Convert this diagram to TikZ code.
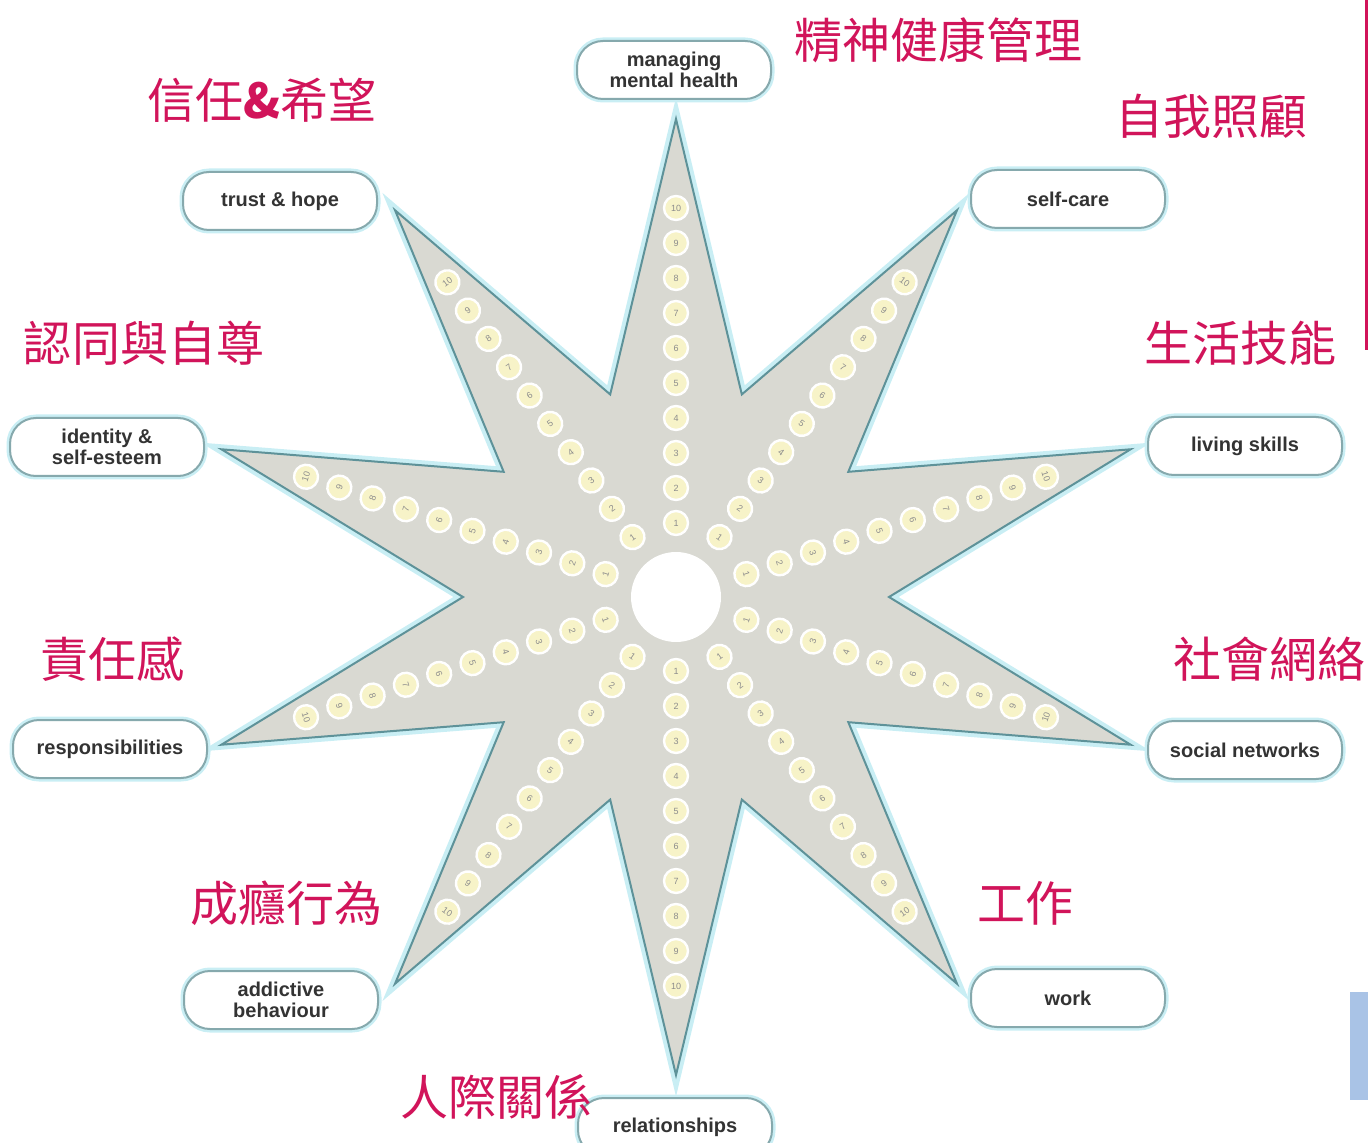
\documentclass[tikz,border=0pt]{standalone}
\usepackage{fontspec}
\setmainfont{Liberation Sans}
\newfontfamily\cjk{Noto Sans CJK TC}
\usetikzlibrary{positioning}
\definecolor{starfill}{HTML}{D9D9D2}
\definecolor{starline}{HTML}{5E9299}
\definecolor{glow}{HTML}{C9EEF4}
\definecolor{dotfill}{HTML}{F7F3C8}
\definecolor{zh}{HTML}{D1145A}
\definecolor{boxline}{HTML}{86A9AD}
\definecolor{patch}{HTML}{A9C3E6}
\tikzset{
    area/.style={rounded corners=13pt, draw=boxline, line width=1pt, fill=white,
        preaction={draw=glow, line width=3.5pt}, minimum width=97pt, minimum height=29pt,
        align=center, inner sep=0pt, text=black!80,
        font=\bfseries\fontsize{10}{10.5}\selectfont},
    zhlabel/.style={text=zh, inner sep=0pt, font=\cjk\fontsize{24}{24}\selectfont},
    dot/.style={circle, draw=white, line width=1.2pt, fill=dotfill, minimum size=12pt,
        inner sep=0pt, text=black!45, font=\fontsize{4.5}{4.5}\selectfont},
    hub/.style={circle, fill=white, minimum size=45pt, inner sep=0pt},
    star/.style={fill=starfill, draw=starline, line width=1pt, line join=miter,
        preaction={draw=glow, line width=5pt}}
}

\begin{document}
\begin{tikzpicture}[x=0.5pt, y=-0.5pt]
    \useasboundingbox (0,0) rectangle (1368,1143);
    \begin{scope}[shift={(676,597)}]
        \draw[star] (90:478) \foreach \i in {1,...,9} {-- (90+36*\i-18:213) -- (90+36*\i:478)} -- (72:213) -- cycle;
        \foreach \a/\r in {90/0,54/36,18/72,-18/-72,-54/-36,-90/0,-126/36,-162/72,162/-72,126/-36}
            \foreach \n in {1,...,10}
                \node[dot, rotate=\r] (dot\a-\n) at (\a:{74+35*(\n-1)}) {\n};
        \node[hub] (hub) at (0,0) {};
    \end{scope}

    \node[area] (mmh) at (674,70) {managing\\mental health};
    \node[area] (care) at (1068,199) {self-care};
    \node[area] (trust) at (280,201) {trust \& hope};
    \node[area] (ident) at (107,447) {identity \&\\self-esteem};
    \node[area] (living) at (1245,446) {living skills};
    \node[area] (resp) at (110,749) {responsibilities};
    \node[area] (social) at (1245,750) {social networks};
    \node[area] (addict) at (281,1000) {addictive\\behaviour};
    \node[area] (work) at (1068,998) {work};
    \node[area] (rel) at (675,1127) {relationships};

    \node[zhlabel] (zmmh) at (938,40) {精神健康管理};
    \node[zhlabel] (zcare) at (1211,116) {自我照顧};
    \node[zhlabel] (ztrust) at (262,100) {信任\textbf{\&}希望};
    \node[zhlabel] (zident) at (144,343) {認同與自尊};
    \node[zhlabel] (zliving) at (1240,343) {生活技能};
    \node[zhlabel] (zresp) at (112,659) {責任感};
    \node[zhlabel] (zsocial) at (1269,659) {社會網絡};
    \node[zhlabel] (zaddict) at (286,903) {成癮行為};
    \node[zhlabel] (zwork) at (1025,903) {工作};
    \node[zhlabel] (zrel) at (496,1097) {人際關係};

    \fill[zh] (1365,0) rectangle (1368,350);
    \fill[patch] (1350,992) rectangle (1368,1100);
\end{tikzpicture}
\end{document}
